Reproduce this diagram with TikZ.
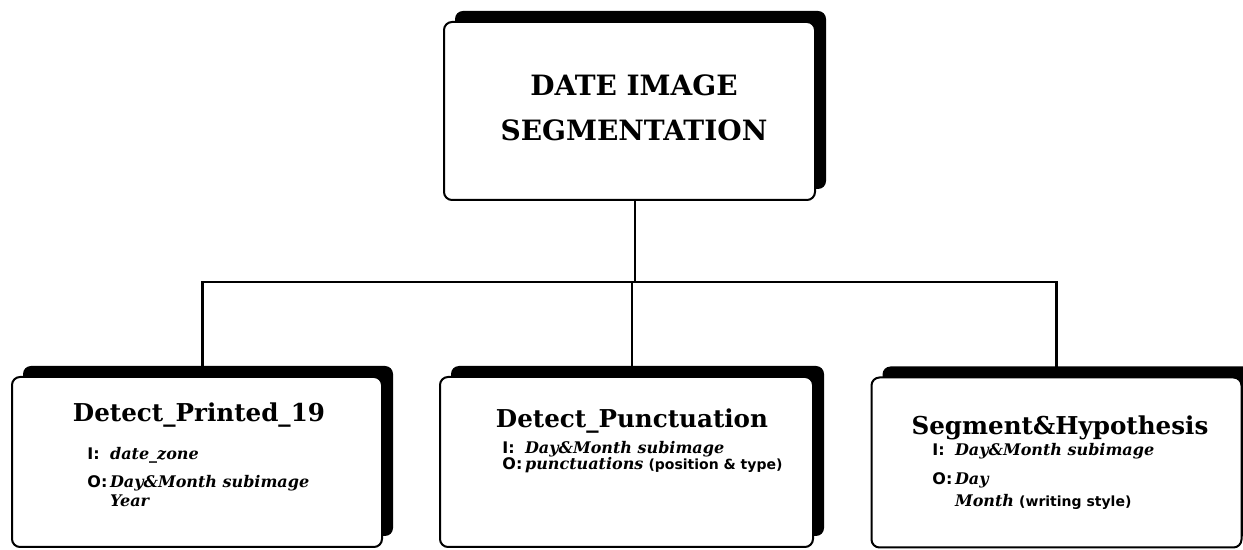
\documentclass[tikz,border=0pt]{standalone}
\usepackage{fontspec}
\setmainfont{DejaVu Serif}
\newfontfamily\iofont{DejaVu Sans}
\usetikzlibrary{shadows,backgrounds}

\def\shad{5.5pt}
\def\modW{185pt}
\def\modH{85pt}
\def\busY{282}

\newcommand{\io}[1]{{\iofont\bfseries #1}}
\newcommand{\data}[1]{{\bfseries\itshape #1}}
\newcommand{\note}[1]{{\iofont\bfseries\fontsize{7}{10}\selectfont #1}}

\tikzset{
  module/.style={draw, line width=1pt, rounded corners=4pt, fill=white,
    minimum width=\modW, minimum height=\modH, inner sep=0pt,
    drop shadow={shadow xshift=\shad, shadow yshift=\shad, fill=black, opacity=1}},
  link/.style={line width=1.2pt},
  modtitle/.style={anchor=base, inner sep=0pt, font=\fontsize{12.3}{15}\selectfont\bfseries},
  iolist/.style={anchor=base west, inner sep=0pt, font=\fontsize{8}{10}\selectfont},
}

\begin{document}
\begin{tikzpicture}[x=0.5pt, y=-0.5pt]
\useasboundingbox (0,0) rectangle (1243,550);

% main module
\node[module, minimum width=185.5pt, minimum height=89pt] (seg) at (629.5,111) {};
\node[inner sep=0pt, align=center, font=\fontsize{14}{22.5}\selectfont\bfseries]
  (segtxt) at (634,108) {DATE IMAGE\\SEGMENTATION};

% sub modules
\node[module] (d19) at (197,462) {};
\node[module, minimum width=186.5pt] (punct) at (626.5,462) {};
\node[module] (hyp) at (1056.5,462.5) {};

\node[modtitle] (d19t) at (199,422) {Detect\_Printed\_19};
\node[modtitle] (punctt) at (632,428) {Detect\_Punctuation};
\node[modtitle] (hypt) at (1060,435) {Segment\&Hypothesis};

\node[iolist] (d19io) at (87,460) {%
  \begin{tabular}[t]{@{}l@{\,}l@{}}
    \io{I:} & \data{date\_zone}\\[4pt]
    \io{O:} & \data{Day\&Month subimage}\\[-0.5pt]
            & \data{Year}
  \end{tabular}};
\node[iolist] (punctio) at (502,454) {%
  \begin{tabular}[t]{@{}l@{\,}l@{}}
    \io{I:} & \data{Day\&Month subimage}\\[-2pt]
    \io{O:} & \data{punctuations} \note{(position \& type)}
  \end{tabular}};
\node[iolist] (hypio) at (932,456) {%
  \begin{tabular}[t]{@{}l@{\,}l@{}}
    \io{I:} & \data{Day\&Month subimage}\\[4.5pt]
    \io{O:} & \data{Day}\\[1pt]
            & \data{Month} \note{(writing style)}
  \end{tabular}};

% tree lines
\coordinate (bus) at (0,\busY);
\begin{scope}[on background layer]
  \draw[link] ([xshift=\shad/2]seg.south) -- ([xshift=\shad/2]seg.south |- bus);
  \draw[link] ([xshift=\shad/2]d19.north) -- ([xshift=\shad/2]d19.north |- bus)
    -- (hyp.north |- bus) -- (hyp.north);
  \draw[link] ([xshift=\shad/2]punct.north) -- ([xshift=\shad/2]punct.north |- bus);
\end{scope}
\end{tikzpicture}
\end{document}
